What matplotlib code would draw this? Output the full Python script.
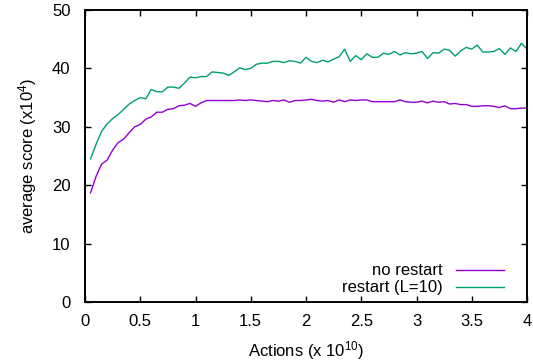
import matplotlib
matplotlib.use("Agg")
import matplotlib.pyplot as plt
import numpy as np

plt.rcParams['font.family'] = ['Liberation Sans', 'DejaVu Sans']
plt.rcParams['mathtext.fontset'] = 'custom'
plt.rcParams['mathtext.rm'] = 'Liberation Sans'
plt.rcParams['mathtext.it'] = 'Liberation Sans'

# actions, in units of 1e10 (one sample every 0.05)
actions = np.round(np.arange(1, 81) * 0.05, 2)

# average score (x1e4) without restart
no_restart = [
    18.7, 21.5, 23.6, 24.3, 26.0, 27.3, 27.9, 29.0, 30.0, 30.4,
    31.3, 31.7, 32.5, 32.5, 33.0, 33.1, 33.6, 33.7, 34.0, 33.5,
    34.1, 34.5, 34.5, 34.5, 34.5, 34.5, 34.5, 34.6, 34.5, 34.6,
    34.5, 34.4, 34.3, 34.5, 34.4, 34.6, 34.2, 34.5, 34.5, 34.6,
    34.7, 34.5, 34.4, 34.5, 34.2, 34.6, 34.3, 34.6, 34.5, 34.6,
    34.6, 34.3, 34.3, 34.3, 34.3, 34.3, 34.6, 34.3, 34.2, 34.2,
    34.4, 34.1, 34.4, 34.2, 34.3, 33.9, 34.0, 33.8, 33.8, 33.5,
    33.5, 33.6, 33.6, 33.5, 33.3, 33.6, 33.1, 33.1, 33.2, 33.2,
]

# average score (x1e4) with restart, L=10
restart = [
    24.5, 27.0, 29.2, 30.5, 31.4, 32.1, 33.0, 33.9, 34.5, 35.0,
    34.8, 36.4, 36.0, 36.0, 36.8, 36.8, 36.6, 37.5, 38.5, 38.4,
    38.6, 38.6, 39.4, 39.3, 39.2, 38.8, 39.4, 40.1, 39.8, 40.0,
    40.7, 40.9, 40.9, 41.2, 41.2, 41.0, 41.3, 41.2, 40.9, 41.9,
    41.2, 41.0, 41.4, 41.1, 41.6, 42.0, 43.3, 41.2, 42.2, 41.5,
    42.5, 41.9, 41.9, 42.6, 42.4, 42.9, 42.3, 42.7, 42.5, 42.6,
    42.9, 41.7, 42.7, 42.6, 43.3, 43.1, 42.1, 43.0, 43.6, 43.3,
    44.0, 42.8, 42.8, 42.9, 43.4, 42.4, 43.5, 42.9, 44.3, 43.3,
]

x_ticks = [0, 0.5, 1, 1.5, 2, 2.5, 3, 3.5, 4]
x_ticklabels = ['0', '0.5', '1', '1.5', '2', '2.5', '3', '3.5', '4']
y_ticks = [0, 10, 20, 30, 40, 50]

fig = plt.figure(figsize=(5.33, 3.64), dpi=100)
ax = fig.add_axes([85 / 533, 62 / 364, 442 / 533, 292 / 364])

ax.plot(actions, no_restart, color='#9400d3', lw=1.0, label='no restart')
ax.plot(actions, restart, color='#009e73', lw=1.0, label='restart (L=10)')

ax.set_xlim(0, 4)
ax.set_ylim(0, 50)
ax.set_xticks(x_ticks)
ax.set_xticklabels(x_ticklabels)
ax.set_yticks(y_ticks)
ax.tick_params(direction='in', length=4.5, width=1.0, labelsize=12,
               top=True, right=True)
ax.tick_params(axis='x', pad=9)
ax.tick_params(axis='y', pad=10.5)
for sp in ax.spines.values():
    sp.set_linewidth(1.4)

ax.set_xlabel(r'Actions (x 10$^{10}$)', fontsize=12, labelpad=7)
ax.set_ylabel(r'average score (x10$^{4}$)', fontsize=12, labelpad=9)

# key sits in the lower right, text right-aligned before the line sample
ax.legend(loc='lower right', bbox_to_anchor=(0.963, 0.0), frameon=False,
          markerfirst=False, fontsize=12, handlelength=2.9,
          handletextpad=0.8, labelspacing=0.12, borderaxespad=0.0)

fig.savefig('out.png', dpi=100)
